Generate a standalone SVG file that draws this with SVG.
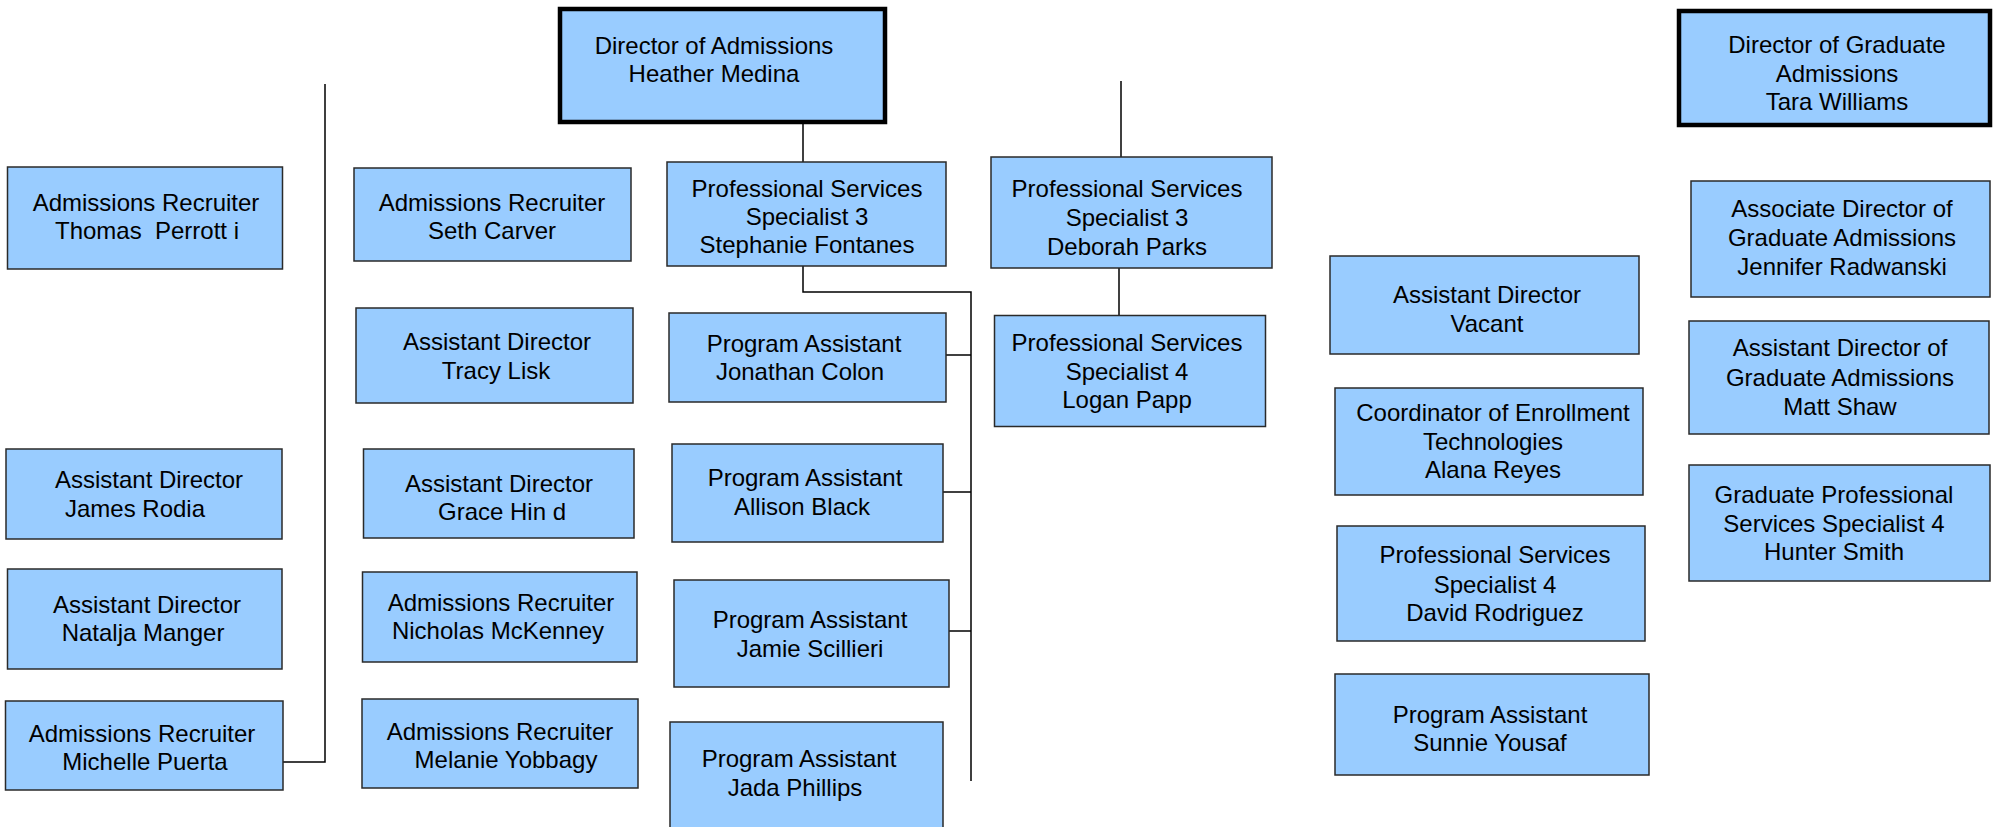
<svg xmlns="http://www.w3.org/2000/svg" width="1995" height="827" viewBox="0 0 1995 827">
<style>
.box{fill:#99CCFF;stroke:#2a2a2a;stroke-width:1.5}
.dir{fill:#99CCFF;stroke:#000;stroke-width:4.5}
.t{font-family:"Liberation Sans",Arial,sans-serif;font-size:24px;fill:#000;text-anchor:middle}
.ln{fill:none;stroke:#000;stroke-width:1.5}
</style>
<rect width="1995" height="827" fill="#fff"/>
<g id="connectors">
<path class="ln" d="M325 84 V762 H283"/>
<path class="ln" d="M803 122 V162"/>
<path class="ln" d="M803 266 V292 H971 V781"/>
<path class="ln" d="M944 355 H971"/>
<path class="ln" d="M941 492 H971"/>
<path class="ln" d="M949 631 H971"/>
<path class="ln" d="M1121 81 V157"/>
<path class="ln" d="M1119 268 V315"/>
</g>
<g id="director-admissions"><rect class="dir" x="560" y="9" width="325" height="113"/><text class="t"><tspan x="714" y="54">Director of Admissions</tspan><tspan x="714" y="82">Heather Medina</tspan></text></g>
<g id="thomas"><rect class="box" x="7.5" y="167" width="275" height="102"/><text class="t" xml:space="preserve"><tspan x="146" y="211">Admissions Recruiter</tspan><tspan x="147" y="239">Thomas  Perrott i</tspan></text></g>
<g id="james"><rect class="box" x="6" y="449" width="276" height="90"/><text class="t"><tspan x="149" y="488">Assistant Director</tspan><tspan x="135" y="517">James Rodia</tspan></text></g>
<g id="natalja"><rect class="box" x="7.5" y="569" width="274.5" height="100"/><text class="t"><tspan x="147" y="613">Assistant Director</tspan><tspan x="143" y="641">Natalja Manger</tspan></text></g>
<g id="michelle"><rect class="box" x="5.5" y="701" width="277.5" height="89"/><text class="t"><tspan x="142" y="742">Admissions Recruiter</tspan><tspan x="145" y="770">Michelle Puerta</tspan></text></g>
<g id="seth"><rect class="box" x="354" y="168" width="277" height="93"/><text class="t"><tspan x="492" y="211">Admissions Recruiter</tspan><tspan x="492" y="239">Seth Carver</tspan></text></g>
<g id="tracy"><rect class="box" x="356" y="308" width="277" height="95"/><text class="t"><tspan x="497" y="350">Assistant Director</tspan><tspan x="496" y="379">Tracy Lisk</tspan></text></g>
<g id="grace"><rect class="box" x="363.5" y="449" width="270.5" height="89"/><text class="t"><tspan x="499" y="492">Assistant Director</tspan><tspan x="502" y="520">Grace Hin d</tspan></text></g>
<g id="nicholas"><rect class="box" x="362.5" y="572" width="274.5" height="90"/><text class="t"><tspan x="501" y="611">Admissions Recruiter</tspan><tspan x="498" y="639">Nicholas McKenney</tspan></text></g>
<g id="melanie"><rect class="box" x="362" y="699" width="276" height="89"/><text class="t"><tspan x="500" y="740">Admissions Recruiter</tspan><tspan x="506" y="768">Melanie Yobbagy</tspan></text></g>
<g id="stephanie"><rect class="box" x="667" y="162" width="279" height="104"/><text class="t"><tspan x="807" y="197">Professional Services</tspan><tspan x="807" y="225">Specialist 3</tspan><tspan x="807" y="253">Stephanie Fontanes</tspan></text></g>
<g id="jonathan"><rect class="box" x="669" y="313" width="277" height="89"/><text class="t"><tspan x="804" y="352">Program Assistant</tspan><tspan x="800" y="380">Jonathan Colon</tspan></text></g>
<g id="allison"><rect class="box" x="672" y="444" width="271" height="98"/><text class="t"><tspan x="805" y="486">Program Assistant</tspan><tspan x="802" y="515">Allison Black</tspan></text></g>
<g id="jamie"><rect class="box" x="674" y="580" width="275" height="107"/><text class="t"><tspan x="810" y="628">Program Assistant</tspan><tspan x="810" y="657">Jamie Scillieri</tspan></text></g>
<g id="jada"><rect class="box" x="670" y="722" width="273" height="112"/><text class="t"><tspan x="799" y="767">Program Assistant</tspan><tspan x="795" y="796">Jada Phillips</tspan></text></g>
<g id="deborah"><rect class="box" x="991" y="157" width="281" height="111"/><text class="t"><tspan x="1127" y="197">Professional Services</tspan><tspan x="1127" y="226">Specialist 3</tspan><tspan x="1127" y="255">Deborah Parks</tspan></text></g>
<g id="logan"><rect class="box" x="994.5" y="315.5" width="271" height="111"/><text class="t"><tspan x="1127" y="351">Professional Services</tspan><tspan x="1127" y="380">Specialist 4</tspan><tspan x="1127" y="408">Logan Papp</tspan></text></g>
<g id="vacant"><rect class="box" x="1330" y="256" width="309" height="98"/><text class="t"><tspan x="1487" y="303">Assistant Director</tspan><tspan x="1487" y="332">Vacant</tspan></text></g>
<g id="alana"><rect class="box" x="1335" y="388" width="308" height="107"/><text class="t"><tspan x="1493" y="421">Coordinator of Enrollment</tspan><tspan x="1493" y="450">Technologies</tspan><tspan x="1493" y="478">Alana Reyes</tspan></text></g>
<g id="david"><rect class="box" x="1337" y="526" width="308" height="115"/><text class="t"><tspan x="1495" y="563">Professional Services</tspan><tspan x="1495" y="593">Specialist 4</tspan><tspan x="1495" y="621">David Rodriguez</tspan></text></g>
<g id="sunnie"><rect class="box" x="1335" y="674" width="314" height="101"/><text class="t"><tspan x="1490" y="723">Program Assistant</tspan><tspan x="1490" y="751">Sunnie Yousaf</tspan></text></g>
<g id="director-graduate"><rect class="dir" x="1679" y="11" width="311" height="114"/><text class="t"><tspan x="1837" y="53">Director of Graduate</tspan><tspan x="1837" y="82">Admissions</tspan><tspan x="1837" y="110">Tara Williams</tspan></text></g>
<g id="jennifer"><rect class="box" x="1691" y="181" width="299" height="116"/><text class="t"><tspan x="1842" y="217">Associate Director of</tspan><tspan x="1842" y="246">Graduate Admissions</tspan><tspan x="1842" y="275">Jennifer Radwanski</tspan></text></g>
<g id="matt"><rect class="box" x="1689" y="321" width="300" height="113"/><text class="t"><tspan x="1840" y="356">Assistant Director of</tspan><tspan x="1840" y="386">Graduate Admissions</tspan><tspan x="1840" y="415">Matt Shaw</tspan></text></g>
<g id="hunter"><rect class="box" x="1689" y="465" width="301" height="116"/><text class="t"><tspan x="1834" y="503">Graduate Professional</tspan><tspan x="1834" y="532">Services Specialist 4</tspan><tspan x="1834" y="560">Hunter Smith</tspan></text></g>
</svg>
